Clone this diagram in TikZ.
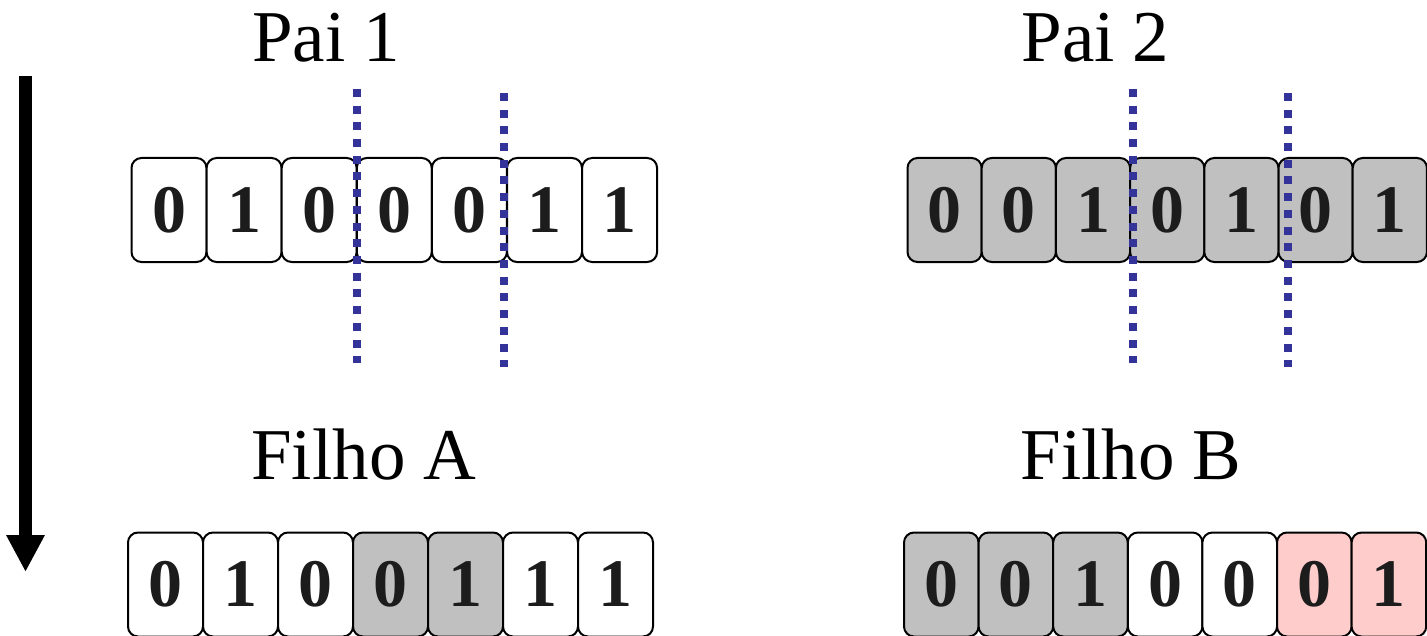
\documentclass[tikz,border=0pt]{standalone}
\usepackage{fontspec}
\setmainfont{Liberation Serif}
\usetikzlibrary{arrows.meta}
\definecolor{cutblue}{RGB}{51,51,153}
\definecolor{cellgray}{RGB}{192,192,192}
\definecolor{cellpink}{RGB}{255,204,204}
\definecolor{digitink}{RGB}{28,28,28}

\begin{document}
\begin{tikzpicture}[x=0.5pt,y=-0.5pt,
  cell/.style={draw=black, line width=1pt, rounded corners=5pt,
    minimum width=37.5pt, minimum height=52pt, inner sep=0pt,
    font=\fontsize{34pt}{34pt}\selectfont\bfseries, text=digitink, fill=white},
  grayc/.style={cell, fill=cellgray},
  pinkc/.style={cell, fill=cellpink},
  title/.style={anchor=base west, inner sep=0pt, font=\fontsize{36.5pt}{36.5pt}\selectfont},
  cutline/.style={draw=cutblue, line width=4pt, dash pattern=on 4pt off 4.35pt},
  timeline/.style={line width=6.2pt, -{Triangle[width=18pt,length=18.5pt]}}]

\useasboundingbox (0,0) rectangle (1427,636);
\clip (0,0) rectangle (1427,636);

% headings
\node[title] (pai1)   at (252,62)   {Pai 1};
\node[title] (pai2)   at (1021,62)  {Pai 2};
\node[title] (filhoa) at (251,479)  {Filho A};
\node[title] (filhob) at (1020,479) {Filho B};

% parent chromosomes
\foreach \d/\s [count=\i from 0] in {0/cell,1/cell,0/cell,0/cell,0/cell,1/cell,1/cell}
  \node[\s] (pa\i) at (169+75.1*\i,210) {\d};
\foreach \d/\s [count=\i from 0] in {0/grayc,0/grayc,1/grayc,0/grayc,1/grayc,0/grayc,1/grayc}
  \node[\s, minimum width=37.1pt] (pb\i) at (944.6+74.2*\i,210) {\d};

% offspring chromosomes
\foreach \d/\s [count=\i from 0] in {0/cell,1/cell,0/cell,0/grayc,1/grayc,1/cell,1/cell}
  \node[\s] (fa\i) at (165.5+75*\i,584.5) {\d};
\foreach \d/\s [count=\i from 0] in {0/grayc,0/grayc,1/grayc,0/cell,0/cell,0/pinkc,1/pinkc}
  \node[\s, minimum width=37.3pt] (fb\i) at (941.3+74.6*\i,584.5) {\d};

% two-point crossover cuts
\coordinate (cutA1) at (357,89);   \coordinate (cutA1e) at (357,363);
\coordinate (cutA2) at (504,93);   \coordinate (cutA2e) at (504,367);
\coordinate (cutB1) at (1132.5,89); \coordinate (cutB1e) at (1132.5,363);
\coordinate (cutB2) at (1288,93);  \coordinate (cutB2e) at (1288,367);
\draw[cutline] (cutA1) -- (cutA1e);
\draw[cutline] (cutA2) -- (cutA2e);
\draw[cutline] (cutB1) -- (cutB1e);
\draw[cutline] (cutB2) -- (cutB2e);

% generation arrow
\coordinate (tstart) at (25.5,76);
\coordinate (tend) at (25.5,572);
\draw[timeline] (tstart) -- (tend);
\end{tikzpicture}
\end{document}
